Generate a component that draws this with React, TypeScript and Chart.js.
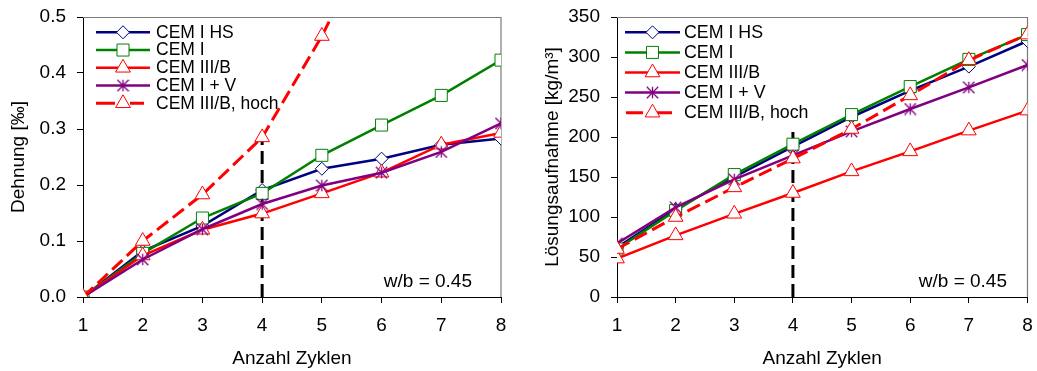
import React, { useEffect, useRef } from "react";
import { Chart, registerables } from "chart.js";

Chart.register(...registerables);

const FONT = "'Liberation Sans', Arial, Helvetica, sans-serif";

// ---- Data ----
const cycles = [1, 2, 3, 4, 5, 6, 7, 8];
const seriesNames = ["CEM I HS", "CEM I", "CEM III/B", "CEM I + V", "CEM III/B, hoch"];

// Dehnung [‰]
const strainHS = [0, 0.082, 0.127, 0.191, 0.229, 0.247, 0.272, 0.283];
const strainI = [0, 0.078, 0.141, 0.185, 0.253, 0.307, 0.36, 0.423];
const strainIIIB = [0, 0.074, 0.12, 0.149, 0.185, 0.222, 0.272, 0.293];
const strainIV = [0, 0.067, 0.121, 0.166, 0.199, 0.222, 0.259, 0.31];
const strainIIIBHoch = [0, 0.1, 0.183, 0.285, 0.466, 0.68, null, null];

// Lösungsaufnahme [kg/m³]
const uptakeHS = [62, 110, 150, 188, 225, 258, 288, 320];
const uptakeI = [60, 108, 153, 191, 228, 263, 297, 328];
const uptakeIIIB = [48, 77, 104, 130, 157, 182, 208, 233];
const uptakeIV = [67, 112, 147, 177, 207, 235, 262, 290];
const uptakeIIIBHoch = [60, 100, 137, 173, 210, 252, 296, 328];

// reference line at cycle 4
const refCycle = 4;
const refTopStrain = 0.3;
const refTopUptake = 210;

const strainTicks = [0, 0.1, 0.2, 0.3, 0.4, 0.5];
const uptakeTicks = [0, 50, 100, 150, 200, 250, 300, 350];

// ---- Styles ----
const seriesStyles = [
  { color: "#000080", width: 2.5, dash: [] as number[], marker: "rectRot", radius: 6.5 },
  { color: "#008000", width: 2.5, dash: [] as number[], marker: "rect", radius: 8.5 },
  { color: "#FF0000", width: 2.5, dash: [] as number[], marker: "triangle", radius: 8.5 },
  { color: "#800080", width: 2.5, dash: [] as number[], marker: "star", radius: 6.5 },
  { color: "#FF0000", width: 3, dash: [14, 6], marker: "triangle", radius: 8.5 },
];

function makeStar(color: string, size: number): HTMLCanvasElement {
  const c = document.createElement("canvas");
  c.width = size;
  c.height = size;
  const ctx = c.getContext("2d")!;
  ctx.strokeStyle = color;
  ctx.lineWidth = 1.3;
  const m = size / 2;
  const r = size / 2 - 0.8;
  ctx.beginPath();
  ctx.moveTo(m, m - r);
  ctx.lineTo(m, m + r);
  ctx.moveTo(m - r, m - r);
  ctx.lineTo(m + r, m + r);
  ctx.moveTo(m + r, m - r);
  ctx.lineTo(m - r, m + r);
  ctx.stroke();
  return c;
}

function drawMarker(ctx: CanvasRenderingContext2D, type: string, x: number, y: number, color: string, r: number, star: HTMLCanvasElement) {
  ctx.save();
  ctx.setLineDash([]);
  ctx.strokeStyle = color;
  ctx.fillStyle = "#fff";
  ctx.lineWidth = 1;
  ctx.beginPath();
  if (type === "rectRot") {
    ctx.moveTo(x, y - r);
    ctx.lineTo(x + r, y);
    ctx.lineTo(x, y + r);
    ctx.lineTo(x - r, y);
    ctx.closePath();
    ctx.fill();
    ctx.stroke();
  } else if (type === "rect") {
    const s = r * Math.SQRT1_2;
    ctx.rect(x - s, y - s, 2 * s, 2 * s);
    ctx.fill();
    ctx.stroke();
  } else if (type === "triangle") {
    for (let k = 0; k < 3; k++) {
      const a = (k * 2 * Math.PI) / 3;
      const px = x + Math.sin(a) * r;
      const py = y - Math.cos(a) * r;
      if (k === 0) ctx.moveTo(px, py);
      else ctx.lineTo(px, py);
    }
    ctx.closePath();
    ctx.fill();
    ctx.stroke();
  } else if (type === "star") {
    ctx.drawImage(star, x - star.width / 2, y - star.height / 2);
  }
  ctx.restore();
}

type Panel = {
  values: (number | null)[][];
  yMax: number;
  yTicks: number[];
  decimals: number;
  refTop: number;
  yTitle: string;
  yWidth: number;
  yTitlePad: number;
  padRight: number;
  legend: { x0: number; x1: number; textX: number; y0: number; dy: number; font: number; dashSegs: number[][] };
  noteRight: number;
};

const boxPlugin = {
  id: "plotBox",
  beforeDatasetsDraw(chart: any) {
    const { ctx, chartArea } = chart;
    ctx.save();
    ctx.strokeStyle = "#7a7a7a";
    ctx.lineWidth = 1.2;
    ctx.beginPath();
    ctx.moveTo(chartArea.left, chartArea.top + 0.5);
    ctx.lineTo(chartArea.right, chartArea.top + 0.5);
    ctx.lineTo(chartArea.right, chartArea.bottom);
    ctx.stroke();
    ctx.restore();
  },
};

const legendPlugin = {
  id: "lineLegend",
  afterDatasetsDraw(chart: any, _args: any, opts: any) {
    const { ctx } = chart;
    const lg = opts.legend;
    const stars = opts.stars;
    seriesNames.forEach((name, i) => {
      const st = seriesStyles[i];
      const y = lg.y0 + i * lg.dy;
      ctx.save();
      ctx.strokeStyle = st.color;
      ctx.lineWidth = st.width;
      ctx.beginPath();
      if (st.dash.length) {
        lg.dashSegs.forEach((seg: number[]) => {
          ctx.moveTo(seg[0], y);
          ctx.lineTo(seg[1], y);
        });
      } else {
        ctx.moveTo(lg.x0, y);
        ctx.lineTo(lg.x1, y);
      }
      ctx.stroke();
      drawMarker(ctx, st.marker, (lg.x0 + lg.x1) / 2, y, st.color, st.radius, stars[i]);
      ctx.fillStyle = "#000";
      ctx.font = `${lg.font}px ${FONT}`;
      ctx.textBaseline = "middle";
      ctx.textAlign = "left";
      ctx.fillText(name, lg.textX, y + 0.5);
      ctx.restore();
    });
  },
};

const notePlugin = {
  id: "wbNote",
  afterDraw(chart: any, _args: any, opts: any) {
    const { ctx } = chart;
    ctx.save();
    ctx.fillStyle = "#000";
    ctx.font = `19px ${FONT}`;
    ctx.textAlign = "right";
    ctx.textBaseline = "alphabetic";
    ctx.fillText("w/b = 0.45", opts.x, opts.y);
    ctx.restore();
  },
};

function ChartPanel({ panel, width }: { panel: Panel; width: number }) {
  const ref = useRef<HTMLCanvasElement | null>(null);
  useEffect(() => {
    if (!ref.current) return;
    const stars = seriesStyles.map((s) => makeStar(s.color, 13));
    const datasets: any[] = seriesNames.map((name, i) => {
      const st = seriesStyles[i];
      return {
        label: name,
        data: cycles.map((c, j) => ({ x: c, y: panel.values[i][j] })),
        borderColor: st.color,
        backgroundColor: "#fff",
        borderWidth: st.width,
        borderDash: st.dash,
        pointStyle: st.marker === "star" ? stars[i] : st.marker,
        pointRadius: st.radius,
        pointBorderColor: st.color,
        pointBackgroundColor: "#fff",
        pointBorderWidth: 1,
        tension: 0,
        spanGaps: false,
        order: 10 - i,
      };
    });
    datasets.push({
      label: "ref",
      data: [
        { x: refCycle, y: 0 },
        { x: refCycle, y: panel.refTop },
      ],
      borderColor: "#000",
      borderWidth: 3,
      borderDash: [13, 6],
      pointRadius: 0,
      order: 20,
    });

    const chart = new Chart(ref.current, {
      type: "line",
      data: { datasets },
      plugins: [boxPlugin, legendPlugin, notePlugin],
      options: {
        animation: false,
        responsive: false,
        maintainAspectRatio: false,
        layout: { padding: { left: 0, right: panel.padRight, top: 17, bottom: 0 } },
        font: { family: FONT },
        plugins: {
          legend: { display: false },
          tooltip: { enabled: false },
          lineLegend: { legend: panel.legend, stars },
          wbNote: { x: panel.noteRight, y: 286.5 },
        } as any,
        scales: {
          x: {
            type: "linear",
            min: 1,
            max: 8,
            afterBuildTicks: (s: any) => {
              s.ticks = cycles.map((v) => ({ value: v }));
            },
            afterFit: (s: any) => {
              s.height = 74;
              s.paddingLeft = 0;
              s.paddingRight = 0;
            },
            ticks: {
              color: "#000",
              font: { family: FONT, size: 19 },
              padding: 11,
              maxRotation: 0,
              callback: (v: any) => String(v),
            },
            grid: { display: true, drawOnChartArea: false, drawTicks: true, tickLength: 6, color: "#000", lineWidth: 1 },
            border: { display: true, color: "#000", width: 1 },
            title: {
              display: true,
              text: "Anzahl Zyklen",
              color: "#000",
              font: { family: FONT, size: 19 },
              padding: { top: 0, bottom: 1 },
            },
          },
          y: {
            type: "linear",
            min: 0,
            max: panel.yMax,
            afterBuildTicks: (s: any) => {
              s.ticks = panel.yTicks.map((v) => ({ value: v }));
            },
            afterFit: (s: any) => {
              s.width = panel.yWidth;
              s.paddingTop = 0;
              s.paddingBottom = 0;
            },
            ticks: {
              color: "#000",
              font: { family: FONT, size: 19 },
              padding: 11,
              callback: (v: any) => Number(v).toFixed(panel.decimals),
            },
            grid: { display: true, drawOnChartArea: false, drawTicks: true, tickLength: 6, color: "#000", lineWidth: 1 },
            border: { display: true, color: "#000", width: 1 },
            title: {
              display: true,
              text: panel.yTitle,
              color: "#000",
              font: { family: FONT, size: 19 },
              padding: { top: panel.yTitlePad, bottom: 0 },
            },
          },
        },
      } as any,
    });
    return () => chart.destroy();
  }, [panel]);
  return <canvas ref={ref} width={width} height={371} style={{ display: "block", width, height: 371 }} />;
}

const leftPanel: Panel = {
  values: [strainHS, strainI, strainIIIB, strainIV, strainIIIBHoch],
  yMax: 0.5,
  yTicks: strainTicks,
  decimals: 1,
  refTop: refTopStrain,
  yTitle: "Dehnung [‰]",
  yWidth: 83,
  yTitlePad: 7,
  padRight: 19,
  legend: { x0: 96, x1: 150, textX: 156, y0: 32.3, dy: 17.75, font: 17.5, dashSegs: [[96, 115], [130, 144]] },
  noteRight: 472,
};

const rightPanel: Panel = {
  values: [uptakeHS, uptakeI, uptakeIIIB, uptakeIV, uptakeIIIBHoch],
  yMax: 350,
  yTicks: uptakeTicks,
  decimals: 0,
  refTop: refTopUptake,
  yTitle: "Lösungsaufnahme [kg/m³]",
  yWidth: 97,
  yTitlePad: 21,
  padRight: 8,
  legend: { x0: 105, x1: 160, textX: 164, y0: 32.3, dy: 20.1, font: 17.8, dashSegs: [[106, 123], [137, 152]] },
  noteRight: 487,
};

export default function App() {
  return (
    <div style={{ position: "fixed", left: 0, top: 0, width: 1037, height: 371, background: "#fff" }}>
      <div style={{ position: "absolute", left: 0, top: 0, width: 520, height: 371 }}>
        <ChartPanel panel={leftPanel} width={520} />
      </div>
      <div style={{ position: "absolute", left: 520, top: 0, width: 517, height: 371 }}>
        <ChartPanel panel={rightPanel} width={517} />
      </div>
    </div>
  );
}
